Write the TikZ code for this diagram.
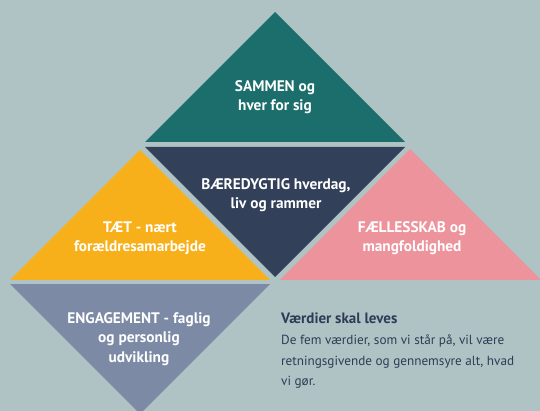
\documentclass[tikz,border=0pt]{standalone}
\usepackage{fontspec}
\setmainfont{PT Sans}
\definecolor{bg}{HTML}{AFC3C4}
\definecolor{teal}{HTML}{1C6E6D}
\definecolor{navy}{HTML}{324059}
\definecolor{amber}{HTML}{F8B01A}
\definecolor{rose}{HTML}{EC939C}
\definecolor{slate}{HTML}{7D8AA5}
\definecolor{ink}{HTML}{2F3B56}
\begin{document}
\begin{tikzpicture}[x=1pt,y=-1pt,
  lbl/.style={text=white,font=\fontsize{15.3}{19.5}\selectfont\bfseries,align=center,inner sep=0pt},
  body/.style={text=ink,font=\fontsize{13.2}{20.5}\selectfont,align=left,anchor=north west,inner sep=0pt}]
\useasboundingbox (0,0) rectangle (540,411);
\fill[bg] (0,0) rectangle (540,411);
\begin{scope}
\clip (0,0) rectangle (540,411);
\fill[teal] (275,12) -- (405,142) -- (145,142) -- cycle;
\fill[navy] (145,147) -- (405,147) -- (275,277) -- cycle;
\fill[amber] (140,150) -- (270,280) -- (10,280) -- cycle;
\fill[rose] (410,149) -- (541,280) -- (280,280) -- cycle;
\fill[slate] (10,284) -- (270,284) -- (140,414) -- cycle;
\end{scope}
\node[lbl] (t1) at (275,97) {SAMMEN og\\hver for sig};
\node[lbl] (t2) at (276,195) {BÆREDYGTIG hverdag,\\liv og rammer};
\node[lbl] (t3) at (140,238) {TÆT - nært\\forældresamarbejde};
\node[lbl] (t4) at (412,238) {FÆLLESSKAB og\\mangfoldighed};
\node[lbl] (t5) at (139,339) {ENGAGEMENT - faglig\\og personlig\\udvikling};
\node[body,font=\fontsize{15}{20.5}\selectfont\bfseries] (h) at (281,313) {Værdier skal leves};
\node[body] (b) at (281,335) {De fem værdier, som vi står på, vil være\\retningsgivende og gennemsyre alt, hvad\\vi gør.};
\end{tikzpicture}
\end{document}
